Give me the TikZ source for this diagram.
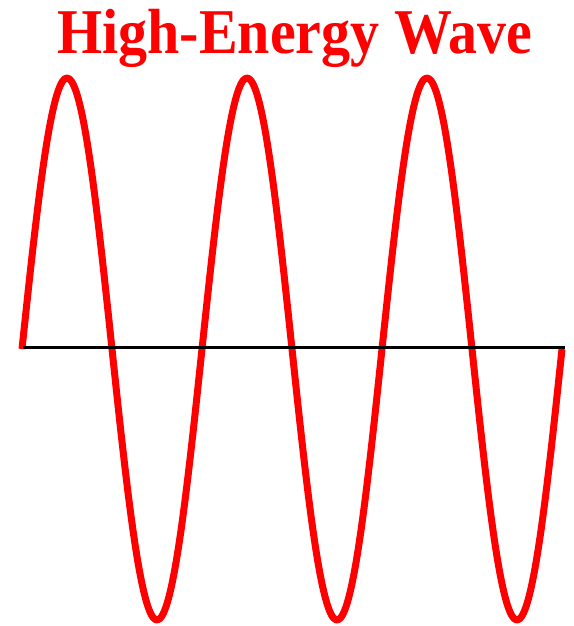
\documentclass[tikz,border=0pt]{standalone}
\usepackage{fontspec}
\setmainfont{Liberation Serif}
\usepackage{tikz}
\usetikzlibrary{positioning}
\definecolor{wavered}{RGB}{255,0,0}

\begin{document}
\begin{tikzpicture}[x=1pt, y=-1pt]
    % Canvas (pixel units, y pointing down)
    \useasboundingbox (0,0) rectangle (573,626);

    % Title
    \node[anchor=base, text=wavered, font=\fontsize{58}{60}\selectfont\bfseries, yscale=1.1] (title) at (295,53) {High-Energy Wave};

    % Wave: three periods, period 180, amplitude 271
    \draw[wavered, line width=7pt, domain=22:562, samples=240, smooth, line join=round]
        plot (\x, {349 - 271*sin(2*(\x-22))});

    % Axis
    \coordinate (axisL) at (23,347.5);
    \coordinate (axisR) at (565,347.5);
    \draw[black, line width=3pt] (axisL) -- (axisR);
\end{tikzpicture}
\end{document}
